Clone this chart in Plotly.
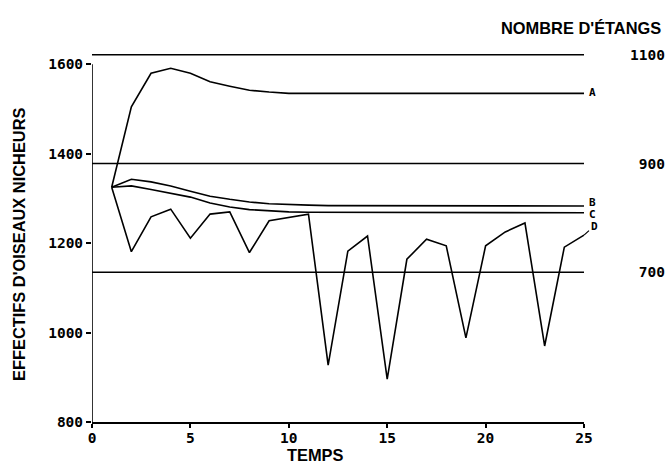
import plotly.graph_objects as go

# ---- data ----
temps = list(range(1, 26))
serie_A = [1325, 1505, 1580, 1591, 1580, 1561, 1551, 1542, 1538, 1535, 1535, 1535, 1535,
           1535, 1535, 1535, 1535, 1535, 1535, 1535, 1535, 1535, 1535, 1535, 1535]
serie_B = [1325, 1343, 1337, 1328, 1316, 1305, 1298, 1292, 1288, 1286, 1285, 1284, 1284,
           1284, 1284, 1284, 1283, 1283, 1283, 1283, 1283, 1283, 1283, 1283, 1283]
serie_C = [1325, 1328, 1320, 1311, 1303, 1290, 1281, 1275, 1272, 1270, 1269, 1269, 1268,
           1268, 1268, 1268, 1268, 1268, 1268, 1268, 1268, 1268, 1268, 1268, 1268]
serie_D = [1325, 1181, 1259, 1276, 1211, 1265, 1270, 1179, 1250, 1258, 1265, 927, 1182,
           1216, 896, 1164, 1209, 1194, 988, 1194, 1225, 1245, 970, 1191, 1218]
series_noms = ["A", "B", "C", "D"]
label_y = [1536, 1292, 1265, 1226]

niveaux_etangs = [1100, 900, 700]
temps_ref = [0, 25]

x_ticks = [0, 5, 10, 15, 20, 25]
y_ticks = [800, 1000, 1200, 1400, 1600]
etang_ticks = [700, 900, 1100]

# ---- figure ----
W, H = 667, 465
tick_font = dict(family="DejaVu Sans Mono", size=14.5, color="black", weight="bold")
label_font = dict(family="DejaVu Sans Mono", size=11, color="black", weight="bold")
title_font = dict(family="Liberation Sans", size=16.4, color="black", weight="bold")
LW = 1.6

fig = go.Figure()
for nom, vals in zip(series_noms, [serie_A, serie_B, serie_C, serie_D]):
    fig.add_trace(go.Scatter(x=temps, y=vals, mode="lines", name=nom,
                             line=dict(color="black", width=LW), showlegend=False,
                             xaxis="x", yaxis="y"))
for niv in niveaux_etangs:
    fig.add_trace(go.Scatter(x=temps_ref, y=[niv, niv], mode="lines",
                             line=dict(color="black", width=LW), showlegend=False,
                             xaxis="x", yaxis="y2"))

xdom = [92 / W, 584 / W]
ydom = [1 - 422 / H, 1 - 50 / H]
px_per_unit = (422 - 64.3) / 800.0
ytop = 800 + (422 - 50) / px_per_unit
r_px = (272.3 - 54.7) / 400.0
r_bot = 1100 - (422 - 54.7) / r_px
r_top = 1100 + (54.7 - 50) / r_px

fig.update_layout(
    width=W, height=H, margin=dict(l=0, r=0, t=0, b=0),
    paper_bgcolor="white", plot_bgcolor="white",
    xaxis=dict(domain=xdom, range=[0, 25], tickvals=x_ticks, ticks="outside", ticklen=4,
               tickwidth=LW, tickcolor="black", showgrid=False, zeroline=False,
               showline=True, linecolor="black", linewidth=LW, tickfont=tick_font,
               ticklabelstandoff=-2, automargin=False),
    xaxis2=dict(domain=xdom, range=[0, 25], overlaying="x", anchor="y", tickvals=x_ticks,
                ticks="inside", ticklen=3, tickwidth=LW, tickcolor="black",
                showticklabels=False, showgrid=False, zeroline=False, automargin=False,
                side="bottom"),
    yaxis=dict(domain=ydom, range=[800, ytop], tickvals=y_ticks, ticks="outside", ticklen=5,
               tickwidth=LW, tickcolor="black", showgrid=False, zeroline=False,
               showline=False, tickfont=tick_font, automargin=False, anchor="x"),
    yaxis3=dict(domain=ydom, range=[800, ytop], overlaying="y", anchor="x", tickvals=y_ticks,
                ticks="inside", ticklen=3, tickwidth=LW, tickcolor="black",
                showticklabels=False, showgrid=False, zeroline=False, automargin=False),
    yaxis2=dict(domain=ydom, range=[r_bot, r_top], overlaying="y", anchor="free",
                position=0.997, side="left", tickvals=etang_ticks, ticks="",
                showgrid=False, zeroline=False, showline=False, tickfont=tick_font,
                automargin=False),
)
# left axis line only from 800 to 1600
fig.add_shape(type="line", xref="x", yref="y", x0=0, x1=0, y0=800, y1=1600,
              line=dict(color="black", width=LW))

# series labels
for nom, vy, vals in zip(series_noms, label_y, [serie_A, serie_B, serie_C, serie_D]):
    if nom == "D":
        fig.add_annotation(x=temps[-1], y=vals[-1], xref="x", yref="y", text=nom,
                           showarrow=True, arrowhead=0, arrowwidth=1.2, arrowcolor="black",
                           ax=10, ay=-9, font=label_font, xanchor="center", yanchor="middle")
    else:
        fig.add_annotation(x=25, y=vy, xref="x", yref="y", text=nom, showarrow=False,
                           xanchor="left", xshift=3, font=label_font)

# titles
fig.add_annotation(x=19 / W, y=1 - 244 / H, xref="paper", yref="paper",
                   text="EFFECTIFS D'OISEAUX NICHEURS", textangle=-90, showarrow=False,
                   font=title_font, xanchor="center", yanchor="middle")
fig.add_annotation(x=315 / W, y=1 - 455 / H, xref="paper", yref="paper", text="TEMPS",
                   showarrow=False, font=title_font, xanchor="center", yanchor="middle")
fig.add_annotation(x=663 / W, y=1 - 28 / H, xref="paper", yref="paper",
                   text="NOMBRE D'ÉTANGS", showarrow=False, font=title_font,
                   xanchor="right", yanchor="middle")

fig.write_html("out.html")
